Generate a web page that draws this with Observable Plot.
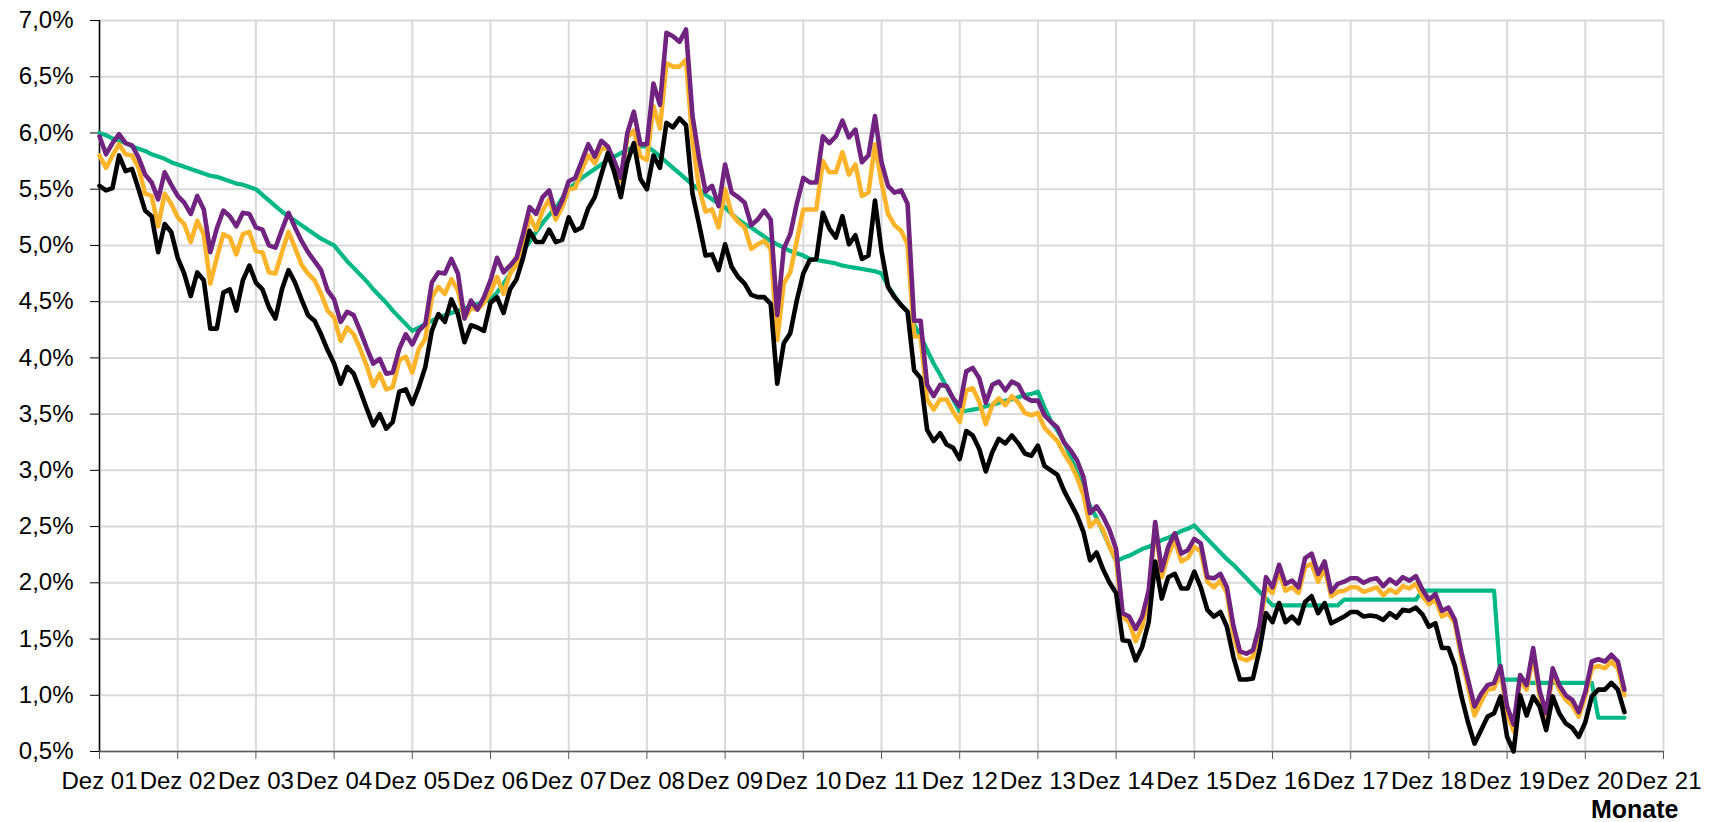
<!DOCTYPE html>
<html><head><meta charset="utf-8">
<script src="https://cdn.jsdelivr.net/npm/d3@7"></script>
<script src="https://cdn.jsdelivr.net/npm/@observablehq/plot@0.6"></script>
<style>html,body{margin:0;padding:0;background:#fff;} svg{display:block}</style>
</head><body><div id="chart"></div>
<script>
// monthly values (%), first value = Dez 01
const purple = [5.97,5.81,5.91,5.99,5.91,5.89,5.78,5.63,5.56,5.41,5.65,5.54,
5.44,5.38,5.28,5.44,5.32,4.94,5.15,5.31,5.26,5.17,5.29,5.28,
5.16,5.14,5.00,4.98,5.14,5.29,5.16,5.04,4.94,4.86,4.78,4.60,
4.52,4.32,4.41,4.38,4.24,4.09,3.95,3.99,3.86,3.87,4.08,4.21,
4.12,4.24,4.30,4.67,4.76,4.75,4.88,4.75,4.35,4.51,4.43,4.54,
4.69,4.89,4.76,4.82,4.89,5.10,5.34,5.28,5.43,5.49,5.28,5.40,
5.57,5.60,5.75,5.90,5.79,5.93,5.88,5.75,5.60,6.00,6.19,5.90,
5.90,6.44,6.25,6.89,6.86,6.81,6.92,6.15,5.78,5.48,5.53,5.35,
5.72,5.47,5.43,5.38,5.18,5.23,5.31,5.23,4.38,4.97,5.10,5.37,
5.60,5.56,5.56,5.97,5.91,5.97,6.11,5.96,6.03,5.74,5.80,6.15,
5.74,5.53,5.47,5.49,5.37,4.33,4.33,3.76,3.66,3.76,3.75,3.64,
3.57,3.88,3.91,3.82,3.60,3.76,3.79,3.71,3.79,3.76,3.65,3.62,
3.62,3.49,3.43,3.38,3.25,3.18,3.09,2.94,2.62,2.68,2.59,2.47,
2.30,1.73,1.70,1.59,1.70,1.93,2.54,2.11,2.32,2.44,2.26,2.29,
2.39,2.35,2.05,2.04,2.08,1.96,1.62,1.39,1.37,1.40,1.62,2.05,
1.96,2.16,1.99,2.02,1.96,2.22,2.26,2.08,2.19,1.92,1.99,2.01,
2.04,2.04,2.00,2.03,2.04,1.97,2.03,1.99,2.05,2.02,2.06,1.94,
1.85,1.90,1.75,1.78,1.67,1.38,1.14,0.90,1.01,1.09,1.11,1.26,
0.90,0.74,1.18,1.09,1.42,1.04,0.84,1.24,1.09,1.00,0.96,0.85,
1.03,1.30,1.32,1.30,1.36,1.30,1.05];

const orange = [5.80,5.69,5.80,5.90,5.81,5.80,5.69,5.46,5.44,5.17,5.46,5.37,
5.25,5.19,5.03,5.22,5.10,4.66,4.89,5.10,5.07,4.92,5.10,5.12,
4.95,4.94,4.76,4.75,4.94,5.12,4.98,4.83,4.75,4.69,4.57,4.42,
4.36,4.15,4.27,4.21,4.08,3.93,3.75,3.86,3.72,3.74,3.98,4.01,
3.87,4.08,4.17,4.54,4.63,4.57,4.70,4.60,4.35,4.44,4.43,4.49,
4.58,4.72,4.57,4.75,4.83,4.98,5.26,5.14,5.31,5.41,5.23,5.34,
5.50,5.51,5.67,5.80,5.73,5.86,5.87,5.72,5.57,5.96,6.02,5.79,
5.76,6.24,6.04,6.62,6.59,6.59,6.65,5.93,5.51,5.30,5.32,5.16,
5.50,5.28,5.21,5.16,4.97,5.01,5.04,4.97,4.16,4.66,4.76,5.04,
5.32,5.32,5.32,5.75,5.65,5.65,5.83,5.63,5.72,5.44,5.47,5.90,
5.56,5.28,5.18,5.13,5.01,4.19,4.19,3.63,3.54,3.63,3.63,3.52,
3.43,3.71,3.73,3.61,3.41,3.58,3.64,3.58,3.66,3.60,3.51,3.49,
3.51,3.38,3.32,3.26,3.15,3.06,2.94,2.78,2.50,2.56,2.47,2.32,
2.20,1.70,1.65,1.48,1.61,1.89,2.51,2.05,2.25,2.38,2.19,2.22,
2.32,2.28,2.01,1.96,2.02,1.91,1.54,1.33,1.31,1.34,1.58,1.96,
1.91,2.10,1.93,1.96,1.91,2.14,2.17,2.01,2.13,1.88,1.92,1.93,
1.96,1.96,1.92,1.94,1.96,1.89,1.94,1.91,1.97,1.95,1.99,1.88,
1.81,1.85,1.70,1.73,1.64,1.33,1.08,0.82,0.94,1.05,1.06,1.21,
0.84,0.68,1.14,1.05,1.36,0.99,0.79,1.20,1.05,0.96,0.91,0.81,
0.99,1.24,1.26,1.24,1.30,1.24,1.00];

const black = [5.53,5.49,5.51,5.80,5.66,5.68,5.50,5.31,5.26,4.94,5.19,5.12,
4.89,4.75,4.55,4.76,4.69,4.26,4.26,4.58,4.61,4.42,4.69,4.82,
4.67,4.61,4.45,4.35,4.61,4.78,4.67,4.52,4.38,4.33,4.21,4.07,
3.95,3.77,3.92,3.86,3.71,3.55,3.40,3.50,3.37,3.43,3.70,3.72,
3.59,3.74,3.92,4.24,4.39,4.32,4.52,4.39,4.14,4.29,4.27,4.24,
4.49,4.54,4.40,4.61,4.70,4.89,5.13,5.03,5.03,5.14,5.03,5.05,
5.25,5.13,5.16,5.33,5.43,5.63,5.82,5.65,5.43,5.74,5.91,5.59,
5.50,5.80,5.69,6.09,6.05,6.13,6.07,5.46,5.19,4.91,4.92,4.78,
5.01,4.81,4.72,4.66,4.56,4.54,4.54,4.48,3.77,4.13,4.22,4.51,
4.75,4.87,4.88,5.29,5.15,5.07,5.26,5.01,5.09,4.88,4.91,5.40,
4.95,4.63,4.54,4.47,4.41,3.89,3.82,3.36,3.26,3.33,3.23,3.20,
3.10,3.35,3.31,3.19,2.99,3.16,3.28,3.24,3.31,3.24,3.15,3.13,
3.22,3.04,3.00,2.96,2.82,2.71,2.60,2.45,2.20,2.27,2.12,2.00,
1.91,1.49,1.48,1.31,1.43,1.65,2.19,1.86,2.05,2.08,1.95,1.95,
2.10,1.96,1.76,1.70,1.74,1.61,1.34,1.14,1.14,1.15,1.40,1.73,
1.65,1.82,1.65,1.70,1.64,1.83,1.88,1.73,1.82,1.64,1.67,1.70,
1.74,1.74,1.70,1.71,1.70,1.67,1.73,1.69,1.76,1.75,1.78,1.72,
1.61,1.64,1.42,1.42,1.26,0.99,0.76,0.57,0.69,0.81,0.84,0.99,
0.63,0.50,1.00,0.82,0.99,0.90,0.69,0.99,0.84,0.75,0.71,0.63,
0.76,0.99,1.05,1.05,1.11,1.05,0.85];

const green = [6.00,5.98,5.95,5.93,5.91,5.88,5.86,5.84,5.81,5.79,5.77,5.74,
5.72,5.70,5.68,5.66,5.64,5.62,5.61,5.59,5.57,5.55,5.54,5.52,
5.50,5.45,5.40,5.35,5.30,5.26,5.22,5.18,5.14,5.10,5.06,5.03,
5.00,4.93,4.86,4.80,4.74,4.68,4.61,4.55,4.49,4.42,4.36,4.30,
4.24,4.27,4.30,4.33,4.36,4.38,4.40,4.42,4.44,4.46,4.48,4.50,
4.52,4.58,4.66,4.75,4.85,4.95,5.03,5.12,5.20,5.27,5.33,5.42,
5.50,5.55,5.60,5.64,5.68,5.72,5.76,5.79,5.82,5.85,5.87,5.88,
5.88,5.84,5.79,5.74,5.69,5.64,5.59,5.54,5.50,5.45,5.41,5.37,
5.34,5.28,5.23,5.19,5.16,5.12,5.08,5.04,5.01,4.98,4.95,4.93,
4.91,4.88,4.87,4.86,4.85,4.84,4.82,4.81,4.80,4.79,4.78,4.77,
4.75,4.64,4.55,4.47,4.41,4.30,4.19,4.07,3.95,3.85,3.74,3.63,
3.52,3.53,3.54,3.55,3.57,3.58,3.60,3.62,3.63,3.65,3.67,3.68,
3.70,3.56,3.44,3.35,3.26,3.12,2.98,2.83,2.68,2.58,2.45,2.32,
2.19,2.22,2.24,2.27,2.30,2.32,2.35,2.38,2.40,2.43,2.46,2.48,
2.51,2.45,2.39,2.33,2.27,2.21,2.16,2.10,2.04,1.98,1.92,1.86,
1.80,1.80,1.80,1.80,1.80,1.80,1.80,1.80,1.80,1.80,1.80,1.85,
1.85,1.85,1.85,1.85,1.85,1.85,1.85,1.85,1.85,1.85,1.85,1.93,
1.93,1.93,1.93,1.93,1.93,1.93,1.93,1.93,1.93,1.93,1.93,1.14,
1.14,1.14,1.14,1.11,1.11,1.11,1.11,1.11,1.11,1.11,1.11,1.11,
1.11,1.11,0.80,0.80,0.80,0.80,0.80];

const yTicks = [0.5,1.0,1.5,2.0,2.5,3.0,3.5,4.0,4.5,5.0,5.5,6.0,6.5,7.0];
const xTickLabels = ["Dez 01","Dez 02","Dez 03","Dez 04","Dez 05","Dez 06","Dez 07","Dez 08","Dez 09","Dez 10",
"Dez 11","Dez 12","Dez 13","Dez 14","Dez 15","Dez 16","Dez 17","Dez 18","Dez 19","Dez 20","Dez 21"];
const xTicks = xTickLabels.map((_, i) => i * 12);
const axisTitle = "Monate";

const idx = (d, i) => i;
const val = d => d;

const chart = Plot.plot({
  width: 1713,
  height: 822,
  marginLeft: 99,
  marginRight: 50,
  marginTop: 20,
  marginBottom: 71,
  style: {fontFamily: "'Liberation Sans', Arial, sans-serif", fontSize: "24px", color: "#000", background: "#fff", overflow: "visible"},
  x: {domain: [0, 240]},
  y: {domain: [0.5, 7]},
  marks: [
    Plot.gridX(xTicks, {stroke: "#d9d9d9", strokeOpacity: 1, strokeWidth: 2}),
    Plot.gridY(yTicks, {stroke: "#d9d9d9", strokeOpacity: 1, strokeWidth: 2}),
    Plot.axisY(yTicks, {tickSize: 9, tickPadding: 17, tickFormat: d => d.toFixed(1).replace(".", ",") + "%", label: null, fontSize: 24, stroke: "#000"}),
    Plot.axisX(xTicks, {tickSize: 8, tickPadding: 12, tickFormat: d => xTickLabels[Math.round(d / 12)], label: null, fontSize: 24, stroke: "#595959"}),
    Plot.ruleX([0], {stroke: "#000", strokeWidth: 1.5}),
    Plot.ruleY([0.5], {stroke: "#595959", strokeWidth: 1.5}),
    Plot.line(green, {x: idx, y: val, stroke: "#00b886", strokeWidth: 4.2}),
    Plot.line(orange, {x: idx, y: val, stroke: "#fdb42a", strokeWidth: 4.6}),
    Plot.line(purple, {x: idx, y: val, stroke: "#70237f", strokeWidth: 4.6}),
    Plot.line(black, {x: idx, y: val, stroke: "#000000", strokeWidth: 4.6}),
    Plot.text([axisTitle], {text: d => d, frameAnchor: "bottom-right", textAnchor: "end", lineAnchor: "bottom", dx: 15, dy: 66, fontWeight: "bold", fontSize: 25, fill: "#000"})
  ]
});
document.getElementById("chart").appendChild(chart);
</script>
</body></html>
